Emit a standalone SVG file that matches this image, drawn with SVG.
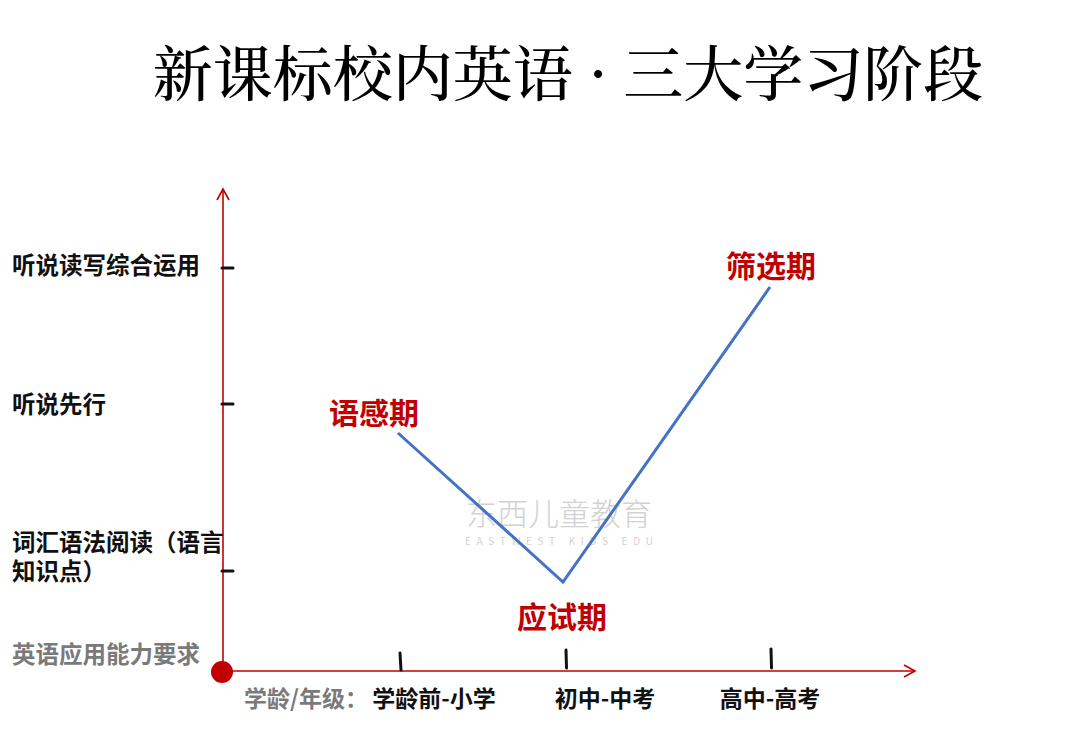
<svg xmlns="http://www.w3.org/2000/svg" width="1080" height="751" viewBox="0 0 1080 751">
<defs>
<style>
.cjk{font-family:"Noto Sans CJK SC","Noto Sans",sans-serif}
.title{font-family:"Noto Serif CJK SC","Noto Sans CJK SC",serif;font-size:60px;fill:#000}
.ylab{font-size:23.5px;font-weight:bold;fill:#111}
.xlab{font-size:23px;font-weight:bold;fill:#111}
.gray{fill:#7a7a7a}
.stage{font-size:30px;font-weight:bold;fill:#c00000}
.axis{stroke:#c00000;stroke-width:1.6;fill:none}
.tick{stroke:#111;stroke-width:3;stroke-linecap:round}
.trend{stroke:#4472c4;stroke-width:3;fill:none;stroke-linejoin:miter}
</style>
<marker id="arr" viewBox="0 0 14 14" refX="12" refY="7" markerWidth="14" markerHeight="14" markerUnits="userSpaceOnUse" orient="auto">
<path d="M1,1 L12,7 L1,13" fill="none" stroke="#c00000" stroke-width="1.6"/>
</marker>
</defs>
<rect width="1080" height="751" fill="#fff"/>
<text class="cjk title" x="568" y="96" text-anchor="middle" font-weight="500">新课标校内英语 · 三大学习阶段</text>
<g id="watermark" opacity="0.8">
<text class="cjk" x="559" y="525" text-anchor="middle" font-size="31" font-weight="300" fill="#c8c8c8">东西儿童教育</text>
<text class="cjk" x="465" y="545" font-size="10" fill="#c8c8c8" textLength="188" lengthAdjust="spacing">EASTWEST KIDS EDU</text>
</g>
<g id="connectors">
<line class="axis" x1="223" y1="672" x2="223" y2="189" marker-end="url(#arr)"/>
<line class="axis" x1="223" y1="671" x2="915" y2="671" marker-end="url(#arr)"/>
<line class="tick" x1="222" y1="268" x2="233" y2="268"/>
<line class="tick" x1="222" y1="404" x2="233" y2="404"/>
<line class="tick" x1="222" y1="571" x2="233" y2="571"/>
<line class="tick" x1="400" y1="653" x2="401" y2="670"/>
<line class="tick" x1="566" y1="650" x2="566.5" y2="668"/>
<line class="tick" x1="771" y1="649" x2="771.5" y2="668"/>
<polyline class="trend" points="398,433 563,582 770,287"/>
</g>
<g id="origin"><circle cx="222" cy="672" r="11" fill="#c00000"/></g>
<g id="y-level-3"><text class="cjk ylab" x="12" y="274">听说读写综合运用</text></g>
<g id="y-level-2"><text class="cjk ylab" x="12" y="413">听说先行</text></g>
<g id="y-level-1"><text class="cjk ylab" x="12" y="551" font-size="23">词汇语法阅读（语言</text><text class="cjk ylab" x="12" y="580" font-size="23">知识点）</text></g>
<g id="y-title"><text class="cjk ylab gray" x="12" y="663">英语应用能力要求</text></g>
<g id="x-title"><text class="cjk xlab gray" x="244" y="707">学龄/年级：</text></g>
<g id="x-stage-1"><text class="cjk xlab" x="434" y="707" text-anchor="middle">学龄前-小学</text></g>
<g id="x-stage-2"><text class="cjk xlab" x="605" y="707" text-anchor="middle">初中-中考</text></g>
<g id="x-stage-3"><text class="cjk xlab" x="770" y="707" text-anchor="middle">高中-高考</text></g>
<g id="stage-yugan"><text class="cjk stage" x="374" y="424" text-anchor="middle">语感期</text></g>
<g id="stage-yingshi"><text class="cjk stage" x="562" y="628" text-anchor="middle">应试期</text></g>
<g id="stage-shaixuan"><text class="cjk stage" x="771" y="277" text-anchor="middle">筛选期</text></g>
</svg>
